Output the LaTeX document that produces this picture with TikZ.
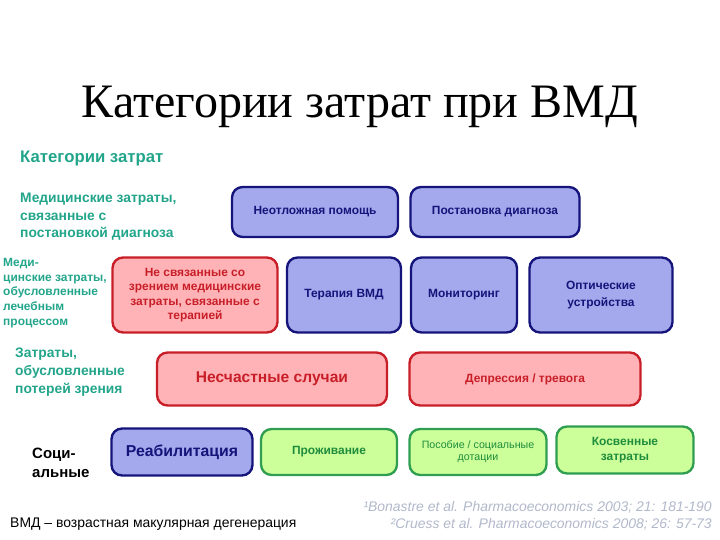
\documentclass[tikz,border=0pt]{standalone}
\usepackage{fontspec}
\setmainfont{Liberation Serif}
\setsansfont{Liberation Sans}
\usetikzlibrary{positioning}
\definecolor{vmteal}{HTML}{22A58A}
\definecolor{vmnavy}{HTML}{14147A}
\definecolor{vmblue}{HTML}{A4A8EC}
\definecolor{vmredline}{HTML}{C81E28}
\definecolor{vmred}{HTML}{FFB3B6}
\definecolor{vmgreenline}{HTML}{2F9E50}
\definecolor{vmgreen}{HTML}{CCFF99}
\definecolor{vmgreentext}{HTML}{1E8C3C}
\definecolor{vmgrey}{HTML}{B0B8CA}
\tikzset{
  vm text/.style={font=\sffamily, text=black},
  vm box/.style={line width=2pt, rounded corners=9pt, align=center,
    inner sep=2pt, font=\sffamily\bfseries\fontsize{10.2}{12.2}\selectfont},
  blue box/.style={vm box, draw=vmnavy, fill=vmblue, text=vmnavy},
  red box/.style={vm box, draw=vmredline, fill=vmred, text=vmredline},
  green box/.style={vm box, draw=vmgreenline, fill=vmgreen, text=vmgreentext},
  side label/.style={anchor=north west, align=left, inner sep=0pt, text=vmteal,
    font=\sffamily\bfseries\fontsize{11.8}{15}\selectfont},
  ref note/.style={anchor=east, inner sep=0pt, text=vmgrey,
    font=\sffamily\itshape\fontsize{11.9}{13}\selectfont}
}

\begin{document}
\begin{tikzpicture}[vm text, x=0.03cm, y=-0.03cm]
  \useasboundingbox (0,0) rectangle (720,540);
  \node[font=\rmfamily\fontsize{41}{44}\selectfont] (title) at (360,107) {Категории затрат при ВМД};
  % left column labels
  \node[side label, font=\sffamily\bfseries\fontsize{14.3}{16}\selectfont] (catlab) at (20,151) {Категории затрат};
  \node[side label] (diaglab) at (20,193) {Медицинские затраты,\\связанные с\\постановкой диагноза};
  \node[side label, font=\sffamily\bfseries\fontsize{10.2}{12.5}\selectfont] (treatlab) at (3,258) {Меди-\\цинские затраты,\\обусловленные\\лечебным\\процессом};
  \node[side label] (losslab) at (15,348) {Затраты,\\обусловленные\\потерей зрения};
  \node[side label, text=black, font=\sffamily\bfseries\fontsize{12.8}{16}\selectfont] (sociallab) at (32,448) {Соци-\\альные};
  % row 1
  \node[blue box, minimum width=166*0.03cm, minimum height=50*0.03cm] (emerg) at (315,212) {Неотложная помощь};
  \node[blue box, minimum width=169*0.03cm, minimum height=50*0.03cm] (diag) at (495,212) {Постановка диагноза};
  % row 2
  \node[red box, minimum width=165*0.03cm, minimum height=75*0.03cm] (nonvis) at (195,295) {Не связанные со\\зрением медицинские\\затраты, связанные с\\терапией};
  \node[blue box, minimum width=114*0.03cm, minimum height=75*0.03cm] (therapy) at (344,295) {Терапия ВМД};
  \node[blue box, minimum width=106*0.03cm, minimum height=75*0.03cm] (monitor) at (464,295) {Мониторинг};
  \node[blue box, minimum width=143*0.03cm, minimum height=75*0.03cm, font=\sffamily\bfseries\fontsize{10.2}{15}\selectfont] (optic) at (601,295) {Оптические\\устройства};
  % row 3
  \node[red box, minimum width=230*0.03cm, minimum height=53*0.03cm, font=\sffamily\bfseries\fontsize{13.3}{15}\selectfont] (accid) at (272,379) {Несчастные случаи};
  \node[red box, minimum width=231*0.03cm, minimum height=53*0.03cm] (depress) at (525,379) {Депрессия / тревога};
  % row 4
  \node[blue box, minimum width=141*0.03cm, minimum height=47*0.03cm, font=\sffamily\bfseries\fontsize{13.5}{15}\selectfont] (rehab) at (182,452) {Реабилитация};
  \node[green box, minimum width=136*0.03cm, minimum height=46*0.03cm] (living) at (329,452) {Проживание};
  \node[green box, minimum width=137*0.03cm, minimum height=46*0.03cm, font=\sffamily\fontsize{9.1}{10.5}\selectfont] (benefit) at (478,452) {Пособие / социальные\\дотации};
  \node[green box, minimum width=137*0.03cm, minimum height=47*0.03cm, font=\sffamily\bfseries\fontsize{10.2}{12.5}\selectfont] (indirect) at (625,450) {Косвенные\\затраты};
  % notes
  \node[anchor=west, inner sep=0pt, font=\sffamily\fontsize{11.9}{13}\selectfont] (abbr) at (10,524) {ВМД – возрастная макулярная дегенерация};
  \node[ref note] (ref1) at (712,507) {¹Bonastre et al. Pharmacoeconomics 2003; 21: 181-190};
  \node[ref note] (ref2) at (712,524) {²Cruess et al. Pharmacoeconomics 2008; 26: 57-73};
\end{tikzpicture}
\end{document}
